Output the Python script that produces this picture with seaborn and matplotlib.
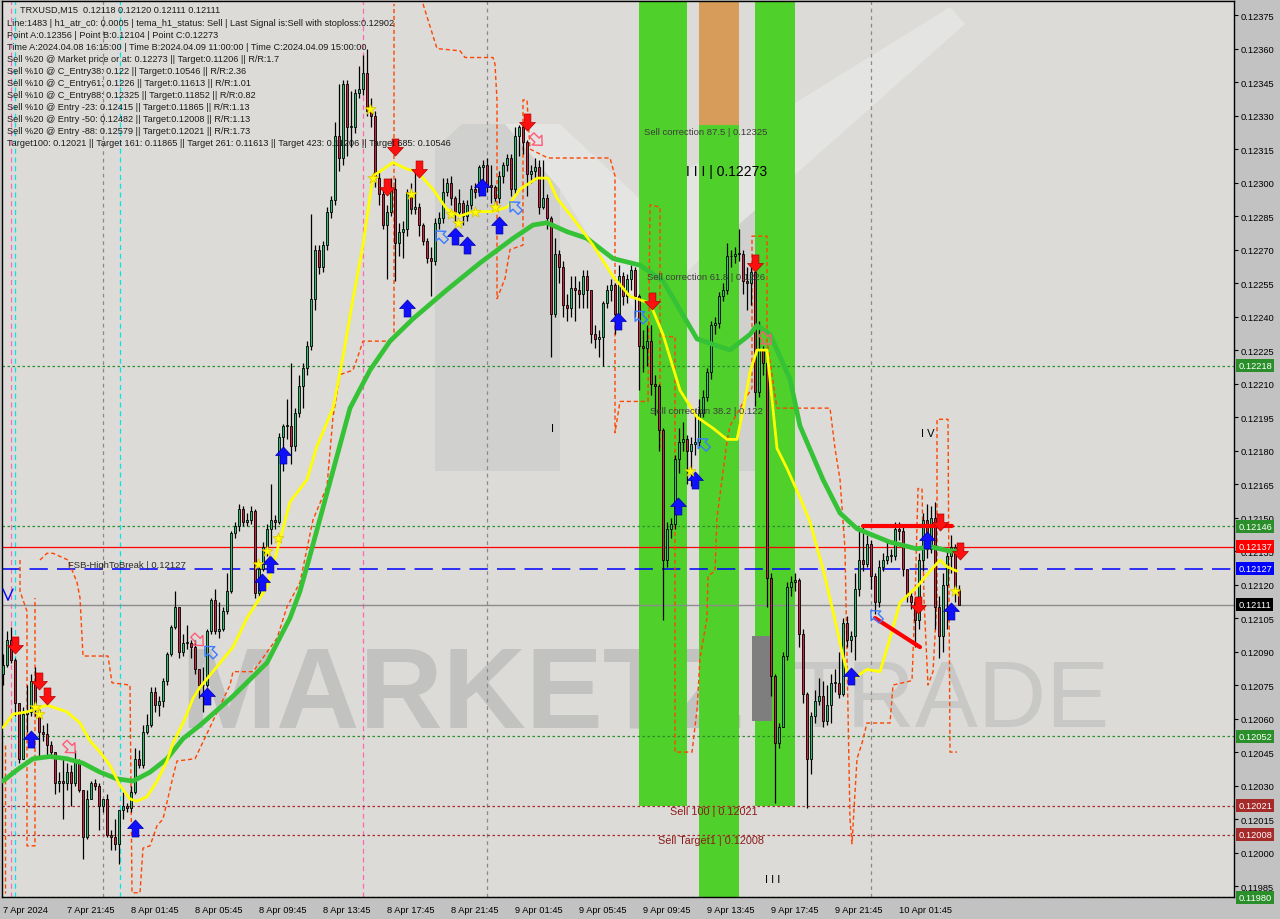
import numpy as np
import pandas as pd
import seaborn as sns
import matplotlib.pyplot as plt
from matplotlib.path import Path
from matplotlib.patches import Rectangle, Polygon
from matplotlib.transforms import blended_transform_factory

# TRXUSD M15 candles, prices in units of 0.00001
first_open = 12080
close = [
    12084, 12095, 12086, 12067, 12042, 12062, 12063, 12077, 12064, 12054,
    12053, 12048, 12045, 12031, 12032, 12031, 12036, 12031, 12041, 12028,
    12007, 12024, 12031, 12030, 12021, 12024, 12008, 12007, 12004, 12019,
    12021, 12020, 12027, 12042, 12039, 12054, 12057, 12072, 12066, 12068,
    12077, 12089, 12101, 12110, 12090, 12094, 12094, 12092, 12082, 12075,
    12075, 12099, 12113, 12099, 12100, 12108, 12117, 12143, 12146, 12154,
    12148, 12149, 12153, 12116, 12127, 12137, 12145, 12149, 12148, 12186,
    12191, 12191, 12182, 12197, 12209, 12217, 12227, 12248, 12270, 12262,
    12272, 12287, 12292, 12321, 12311, 12344, 12325, 12325, 12340, 12342,
    12349, 12332, 12330, 12302, 12295, 12281, 12287, 12297, 12273, 12278,
    12279, 12296, 12288, 12289, 12281, 12274, 12266, 12265, 12282, 12284,
    12296, 12300, 12293, 12287, 12291, 12285, 12290, 12297, 12296, 12307,
    12308, 12299, 12298, 12293, 12303, 12308, 12311, 12297, 12321, 12325,
    12318, 12304, 12305, 12307, 12289, 12293, 12284, 12241, 12268, 12262,
    12245, 12244, 12253, 12252, 12250, 12258, 12252, 12232, 12230, 12231,
    12246, 12252, 12254, 12241, 12258, 12249, 12257, 12261, 12249, 12227,
    12226, 12229, 12210, 12209, 12189, 12131, 12145, 12147, 12176, 12184,
    12185, 12180, 12183, 12184, 12197, 12204, 12215, 12236, 12237, 12249,
    12252, 12267, 12267, 12268, 12268, 12256, 12255, 12260, 12206, 12225,
    12219, 12123, 12079, 12049, 12056, 12088, 12119, 12121, 12122, 12098,
    12071, 12042, 12061, 12068, 12070, 12059, 12066, 12076, 12076, 12071,
    12103, 12095, 12097, 12118, 12131, 12129, 12138, 12124, 12112, 12128,
    12131, 12133, 12133, 12145, 12144, 12127, 12115, 12112, 12104, 12131,
    12149, 12136, 12150, 12110, 12097, 12120, 12133, 12137, 12118, 12111,
]
high = [
    12089, 12099, 12101, 12087, 12065, 12065, 12075, 12080, 12083, 12065,
    12057, 12058, 12050, 12044, 12036, 12042, 12040, 12039, 12046, 12042,
    12028, 12028, 12032, 12033, 12031, 12024, 12026, 12010, 12015, 12019,
    12027, 12022, 12030, 12047, 12046, 12057, 12062, 12074, 12074, 12070,
    12078, 12090, 12102, 12117, 12110, 12098, 12102, 12095, 12095, 12082,
    12083, 12100, 12114, 12118, 12112, 12110, 12125, 12144, 12148, 12156,
    12155, 12152, 12155, 12154, 12129, 12139, 12147, 12165, 12151, 12188,
    12192, 12203, 12219, 12199, 12214, 12219, 12229, 12286, 12272, 12272,
    12274, 12289, 12294, 12327, 12344, 12346, 12346, 12341, 12342, 12352,
    12357, 12360, 12338, 12332, 12305, 12297, 12290, 12302, 12302, 12282,
    12283, 12297, 12300, 12305, 12291, 12282, 12275, 12271, 12284, 12287,
    12302, 12302, 12303, 12294, 12297, 12292, 12292, 12299, 12300, 12308,
    12310, 12311, 12308, 12299, 12305, 12309, 12313, 12313, 12325, 12326,
    12326, 12319, 12308, 12311, 12310, 12310, 12295, 12285, 12275, 12270,
    12265, 12250, 12258, 12258, 12256, 12261, 12261, 12252, 12236, 12234,
    12247, 12254, 12257, 12255, 12263, 12260, 12259, 12263, 12262, 12250,
    12234, 12236, 12236, 12214, 12210, 12190, 12148, 12150, 12178, 12190,
    12193, 12187, 12186, 12198, 12203, 12207, 12217, 12238, 12240, 12251,
    12255, 12273, 12270, 12271, 12279, 12270, 12262, 12262, 12262, 12238,
    12227, 12220, 12125, 12080, 12058, 12090, 12121, 12124, 12125, 12123,
    12100, 12072, 12063, 12073, 12078, 12077, 12075, 12080, 12082, 12090,
    12105, 12106, 12099, 12125, 12144, 12146, 12142, 12140, 12125, 12131,
    12134, 12139, 12136, 12148, 12148, 12146, 12127, 12117, 12114, 12134,
    12152, 12156, 12155, 12157, 12115, 12125, 12135, 12142, 12138, 12120,
]
low = [
    12075, 12083, 12085, 12061, 12040, 12042, 12054, 12061, 12061, 12043,
    12050, 12043, 12043, 12026, 12027, 12015, 12028, 12021, 12030, 12027,
    11997, 12006, 12024, 12028, 12010, 12018, 12007, 12001, 12001, 11995,
    12015, 12018, 12018, 12026, 12038, 12038, 12053, 12056, 12063, 12061,
    12065, 12075, 12088, 12100, 12087, 12088, 12091, 12087, 12080, 12069,
    12063, 12074, 12098, 12098, 12096, 12099, 12107, 12116, 12141, 12144,
    12146, 12146, 12147, 12114, 12115, 12126, 12133, 12138, 12145, 12147,
    12171, 12185, 12174, 12180, 12195, 12199, 12214, 12225, 12243, 12259,
    12260, 12270, 12284, 12290, 12305, 12308, 12312, 12316, 12322, 12338,
    12339, 12330, 12325, 12298, 12290, 12279, 12257, 12285, 12256, 12267,
    12266, 12276, 12286, 12286, 12276, 12272, 12264, 12249, 12263, 12279,
    12282, 12294, 12290, 12282, 12285, 12281, 12283, 12288, 12293, 12294,
    12295, 12296, 12291, 12288, 12291, 12300, 12305, 12294, 12295, 12312,
    12313, 12294, 12300, 12301, 12286, 12288, 12279, 12222, 12240, 12255,
    12240, 12238, 12240, 12238, 12244, 12244, 12244, 12228, 12226, 12222,
    12218, 12244, 12247, 12232, 12240, 12245, 12246, 12252, 12240, 12207,
    12215, 12218, 12205, 12196, 12180, 12104, 12128, 12141, 12145, 12170,
    12180, 12165, 12164, 12178, 12182, 12195, 12202, 12212, 12232, 12235,
    12247, 12250, 12262, 12264, 12265, 12250, 12243, 12245, 12200, 12204,
    12214, 12110, 12070, 12022, 12047, 12062, 12086, 12115, 12117, 12092,
    12067, 12020, 12035, 12058, 12066, 12056, 12057, 12058, 12072, 12069,
    12070, 12092, 12090, 12086, 12115, 12126, 12128, 12118, 12107, 12110,
    12126, 12129, 12130, 12131, 12140, 12124, 12112, 12109, 12092, 12100,
    12126, 12132, 12134, 12100, 12087, 12090, 12100, 12125, 12112, 12111,
]

time_labels = ['7 Apr 2024', '7 Apr 21:45', '8 Apr 01:45', '8 Apr 05:45', '8 Apr 09:45',
               '8 Apr 13:45', '8 Apr 17:45', '8 Apr 21:45', '9 Apr 01:45', '9 Apr 05:45',
               '9 Apr 09:45', '9 Apr 13:45', '9 Apr 17:45', '9 Apr 21:45', '10 Apr 01:45']
price_ticks = list(range(11985, 12376, 15))

# slow MA (green) and fast MA (yellow): (candle index, price)
green_idx = [0, 3.5, 7.5, 11.75, 16, 20, 24.25, 28.5, 32.5, 36.75, 41, 45, 49.25, 57.5, 66,
             71.75, 74.25, 76.75, 81.75, 86.75, 91.75, 96.75, 102.5, 111, 119.25, 127.5, 132.5,
             136, 141, 146, 152.5, 159.25, 165, 173.5, 181.75, 186.75, 188.5, 191.75, 196.75,
             199.25, 205, 209.25, 213.5, 221.75, 228.5, 231.75, 236.75, 239]
green_val = [12032, 12037, 12042, 12043, 12042, 12040, 12036, 12033, 12032, 12036, 12042, 12051,
             12057, 12070, 12085, 12105, 12117, 12133, 12166, 12199, 12216, 12229, 12239, 12252,
             12264, 12275, 12281, 12282, 12278, 12275, 12266, 12263, 12256, 12230, 12225, 12232,
             12236, 12232, 12212, 12191, 12167, 12152, 12145, 12139, 12136, 12137, 12135, 12135]
yellow_idx = [0, 2.5, 6, 11, 16, 19.25, 21.75, 24.25, 26.75, 29.25, 31.75, 33.5, 36, 38.5, 41,
              42.5, 45, 47.5, 49.25, 57.5, 61, 66, 69.25, 71.75, 76, 78.5, 82.5, 85, 87.5, 90,
              92.5, 94.25, 97.5, 101, 103.5, 107.5, 111, 114.25, 117.5, 122.5, 126, 129.25,
              133.5, 136.25, 138.5, 142.5, 147.5, 152.5, 156.75, 161.75, 165, 169.25, 173.5,
              177.5, 181, 183.5, 185, 186.75, 188.5, 191, 193.5, 196, 199.25, 201.75, 205,
              207.5, 210, 211.75, 213.5, 216, 219.25, 221.75, 224.25, 228.5, 231.75, 234.25,
              236, 238.5]
yellow_val = [12056, 12062, 12063, 12066, 12063, 12058, 12050, 12045, 12039, 12030, 12024, 12023,
              12025, 12032, 12041, 12049, 12058, 12069, 12074, 12092, 12105, 12119, 12140, 12157,
              12167, 12182, 12199, 12222, 12248, 12272, 12303, 12305, 12309, 12306, 12305, 12297,
              12288, 12285, 12287, 12287, 12289, 12297, 12302, 12302, 12293, 12284, 12272, 12258,
              12249, 12246, 12232, 12207, 12195, 12190, 12185, 12185, 12198, 12215, 12225, 12225,
              12181, 12172, 12159, 12148, 12127, 12108, 12088, 12076, 12079, 12082, 12081, 12096,
              12112, 12119, 12126, 12131, 12128, 12126]

# dashed orange stop lines: (index, price)
orange_paths = [
    [(0.5, 12048), (0.5, 11982)],
    [(4.25, 12131), (4.25, 12117), (6, 12108), (6, 12003), (8, 12003), (8, 12114)],
    [(9.25, 12131), (11, 12134), (12.5, 12134), (16.25, 12131), (18.5, 12121), (19.25, 12114),
     (20, 12088), (26.25, 12088), (27.25, 12076), (31.75, 12075), (32.25, 11982), (34.25, 11982),
     (35, 12002), (36.75, 12003), (38.5, 12012), (40, 12015), (42.5, 12034), (43.5, 12041),
     (48, 12042), (56.75, 12075), (57.5, 12081), (62.5, 12081), (68.5, 12096), (71, 12110),
     (74.25, 12121), (77.5, 12149), (81, 12164), (82.5, 12195), (84.25, 12214), (87.5, 12216),
     (88.5, 12221), (90, 12229), (97.75, 12229), (97.75, 12380)],
    [(105, 12380), (108.5, 12360), (114.25, 12359), (115.5, 12356), (122.5, 12356), (123, 12353),
     (123.5, 12337), (123.5, 12248), (125.5, 12257), (126.75, 12270), (130, 12272), (130, 12337),
     (131, 12337), (131.75, 12315), (136.25, 12311), (151.75, 12311), (153, 12303), (153, 12188),
     (154.25, 12202), (161.25, 12202), (161.75, 12290), (164.25, 12289), (164.25, 12181)],
    [(164.75, 12231), (168, 12231), (168, 12045), (172.25, 12045), (173.5, 12064), (174.25, 12087),
     (176, 12105), (176.25, 12124), (178, 12126), (178.5, 12150), (181, 12184), (181.75, 12191),
     (185.5, 12203), (187.25, 12208), (187.25, 12276), (191, 12276), (191, 12229), (193.5, 12199),
     (206.75, 12199), (208, 12181), (209.25, 12167), (210.5, 12136), (211.75, 12015)],
    [(211.75, 12015), (212.25, 12004), (213.5, 12042), (214.75, 12049), (216, 12058), (221.75, 12058),
     (222.5, 12075), (227.25, 12077), (228, 12113), (228.75, 12163), (229.75, 12163), (230.25, 12113),
     (231.25, 12075), (232.5, 12081), (233.5, 12113), (233.5, 12194), (236.25, 12194),
     (236.75, 12045), (238.5, 12045)],
]

sell_arrows = [(3, 12093), (9, 12077), (11, 12070), (96, 12298), (98, 12316), (104, 12306),
               (131, 12327), (162.25, 12247), (188, 12264), (228.75, 12111), (234.25, 12148),
               (239.25, 12135)]
buy_arrows = [(7, 12051), (33, 12011), (51, 12070), (64.75, 12121), (66.75, 12129), (70, 12178),
              (101, 12244), (113, 12276), (116, 12272), (119.75, 12298), (124, 12281),
              (153.75, 12238), (168.75, 12155), (173, 12167), (212, 12079), (231, 12140),
              (237, 12108)]
sell_hollow = [(16.75, 12047), (48.75, 12095), (133.5, 12319), (190.75, 12230)]
buy_hollow = [(51.75, 12090), (109.5, 12276), (128, 12289), (159.25, 12240), (175, 12183),
              (218.25, 12106)]
stars = [(8, 12065), (9, 12062), (63.75, 12129), (66, 12135), (68.75, 12141), (91.75, 12333),
         (92.5, 12302), (102, 12295), (112, 12286), (113.75, 12282), (118, 12287), (123, 12289),
         (171.75, 12171), (238, 12117)]
red_lines = [[(215, 12146), (237.25, 12146)], [(218, 12105), (229.25, 12092)]]

# sell zones: (first index, last index, lower price, upper price)
zones = [(159, 171, 12021, 12382), (174, 184, 11980, 12326), (188, 198, 12021, 12382)]
zone_top = (174, 184, 12326, 12382)

levels = [(12218, '#2a8f2a', 'dot'), (12146, '#2a8f2a', 'dot'), (12137, '#ff0000', 'solid'),
          (12127, '#0000ff', 'dash'), (12111, '#000000', 'gray'), (12052, '#2a8f2a', 'dot'),
          (12021, '#a52a2a', 'dot'), (12008, '#a52a2a', 'dot'), (11980, '#2a8f2a', 'dot')]

day_lines = [25, 121, 217]
pink_lines = [2, 90]
cyan_lines = [3.1, 29.15]

header = [
    'Line:1483 | h1_atr_c0: 0.0005 | tema_h1_status: Sell | Last Signal is:Sell with stoploss:0.12902',
    'Point A:0.12356 | Point B:0.12104 | Point C:0.12273',
    'Time A:2024.04.08 16:15:00 | Time B:2024.04.09 11:00:00 | Time C:2024.04.09 15:00:00',
    'Sell %20 @ Market price or at: 0.12273 || Target:0.11206 || R/R:1.7',
    'Sell %10 @ C_Entry38: 0.122 || Target:0.10546 || R/R:2.36',
    'Sell %10 @ C_Entry61: 0.1226 || Target:0.11613 || R/R:1.01',
    'Sell %10 @ C_Entry88: 0.12325 || Target:0.11852 || R/R:0.82',
    'Sell %10 @ Entry -23: 0.12415 || Target:0.11865 || R/R:1.13',
    'Sell %20 @ Entry -50: 0.12482 || Target:0.12008 || R/R:1.13',
    'Sell %20 @ Entry -88: 0.12579 || Target:0.12021 || R/R:1.73',
    'Target100: 0.12021 || Target 161: 0.11865 || Target 261: 0.11613 || Target 423: 0.11206 || Target 685: 0.10546',
]

P = 1e-5
W, H = 1280, 920

sns.set_style('white')
plt.rcParams['font.family'] = ['Liberation Sans', 'DejaVu Sans']

fig = plt.figure(figsize=(12.8, 9.2), dpi=100, facecolor='#c2c2c2')
ax = fig.add_axes([2 / W, 22 / H, 1232 / W, 896 / H])
ax.set_facecolor('#dcdbd8')
ax.set_xlim(-0.25, 307.75)
ax.set_ylim(0.119801, 0.123813)


def fig_poly(pts, **kw):
    return Polygon([(px / W, 1 - py / H) for px, py in pts], transform=fig.transFigure, **kw)


# faint background logo and watermark
ax.add_patch(fig_poly([(435, 472), (435, 150), (462, 125), (505, 125), (560, 190), (560, 472)],
                      color='#d0d0cf', lw=0, zorder=0.3))
ax.add_patch(fig_poly([(730, 472), (730, 185), (795, 125), (795, 472)],
                      color='#d0d0cf', lw=0, zorder=0.3))
ax.add_patch(fig_poly([(505, 125), (560, 125), (640, 200), (950, 8), (965, 25), (700, 260),
                       (640, 320), (560, 190)], color='#e4e4e3', lw=0, zorder=0.35))
ax.text(180 / W, 1 - 727 / H, 'MARKETZ', transform=fig.transFigure, fontsize=83,
        fontweight='bold', color='#c2c2c1', zorder=0.5)
ax.text(790 / W, 1 - 727 / H, 'TRADE', transform=fig.transFigure, fontsize=68,
        color='#c8c8c7', zorder=0.5)

# zones
for i0, i1, lo, hi in zones:
    ax.add_patch(Rectangle((i0, lo * P), i1 - i0, (hi - lo) * P, color='#4fd02a', lw=0, zorder=1))
ax.add_patch(Rectangle((zone_top[0], zone_top[2] * P), zone_top[1] - zone_top[0],
                       (zone_top[3] - zone_top[2]) * P, color='#d89c5a', lw=0, zorder=1))
ax.add_patch(fig_poly([(752, 637), (772, 637), (772, 722), (752, 722)], color='#7e7e7e',
                      lw=0, zorder=1.2))

for d in day_lines:
    ax.axvline(d, color='#8a8a8a', lw=0.9, dashes=(3, 3), zorder=1.5)
for d in pink_lines:
    ax.axvline(d, color='#ff69b4', lw=0.9, dashes=(4, 3), zorder=1.5)
for d in cyan_lines:
    ax.axvline(d, color='#00e5ee', lw=0.9, dashes=(4, 3), zorder=1.5)

for lv, col, st in levels:
    if st == 'dot':
        ax.axhline(lv * P, color=col, lw=0.9, dashes=(2, 2), zorder=2)
    elif st == 'dash':
        ax.axhline(lv * P, color=col, lw=1.1, dashes=(12, 6), zorder=2)
    elif st == 'gray':
        ax.axhline(lv * P, color='#8c8c8c', lw=1.0, zorder=2)
    else:
        ax.axhline(lv * P, color=col, lw=0.9, zorder=2)

for path in orange_paths:
    px, py = zip(*path)
    ax.plot(px, np.array(py) * P, color='#ff4500', lw=1.0, dashes=(3, 2), zorder=2.5)

# candles
df = pd.DataFrame({'close': close, 'high': high, 'low': low}) * P
df['open'] = df['close'].shift(1).fillna(first_open * P)
df['high'] = df[['high', 'open', 'close']].max(axis=1)
df['low'] = df[['low', 'open', 'close']].min(axis=1)
x = np.arange(len(df))
up = (df['close'] >= df['open']).values
ax.vlines(x, df['low'], df['high'], color='black', lw=0.9, zorder=4)
body = (df['close'] - df['open']).abs().clip(lower=0.25 * P)
ax.bar(x, body, bottom=np.minimum(df['open'], df['close']), width=0.7,
       color=np.where(up, '#2fbf71', '#c8283f'), edgecolor='black', linewidth=0.6, zorder=5)

sns.lineplot(x=green_idx, y=np.array(green_val) * P, color='#36c236', lw=3.4, sort=False,
             estimator=None, ax=ax, zorder=6)
sns.lineplot(x=yellow_idx, y=np.array(yellow_val) * P, color='#ffff00', lw=2.0, sort=False,
             estimator=None, ax=ax, zorder=6)


def arrow(angle):
    v = np.array([(-0.28, 0.7), (0.28, 0.7), (0.28, 0.0), (0.65, 0.0), (0, -0.7),
                  (-0.65, 0.0), (-0.28, 0.0), (-0.28, 0.7)])
    a = np.deg2rad(angle)
    r = np.array([[np.cos(a), -np.sin(a)], [np.sin(a), np.cos(a)]])
    return Path(v @ r.T, closed=True)


sx, sy = zip(*sell_arrows)
ax.scatter(sx, np.array(sy) * P, marker=arrow(0), s=150, color='#ff1010', edgecolors='#b00000',
           linewidths=0.5, zorder=8)
bx, by = zip(*buy_arrows)
ax.scatter(bx, np.array(by) * P, marker=arrow(180), s=150, color='#1010ff', edgecolors='#0000a0',
           linewidths=0.5, zorder=8)
hx, hy = zip(*sell_hollow)
ax.scatter(hx, np.array(hy) * P, marker=arrow(45), s=110, facecolors='none', edgecolors='#ff5a78',
           linewidths=1.0, zorder=8)
hx, hy = zip(*buy_hollow)
ax.scatter(hx, np.array(hy) * P, marker=arrow(-135), s=110, facecolors='none', edgecolors='#3a7bff',
           linewidths=1.0, zorder=8)
stx, sty = zip(*stars)
ax.scatter(stx, np.array(sty) * P, marker='*', s=70, color='#ffff00', edgecolors='#d8c000',
           linewidths=0.5, zorder=8)
for seg in red_lines:
    lx, ly = zip(*seg)
    ax.plot(lx, np.array(ly) * P, color='#ff0000', lw=3, zorder=7)
ax.plot([0, 1.25, 2.5], [12118 * P, 12113 * P, 12118 * P], color='#0000ff', lw=1, zorder=7)

# labels in the chart
ax.text(160.25, 12325 * P, 'Sell correction 87.5 | 0.12325', va='top', fontsize=6.8, color='#3c3c3c', zorder=9)
ax.text(170.75, 12305 * P, 'I I I | 0.12273', va='center', fontsize=10, color='black', zorder=9)
ax.text(161, 12260 * P, 'Sell correction 61.8 | 0.1226', va='top', fontsize=6.8, color='#3c3c3c', zorder=9)
ax.text(161.75, 12200 * P, 'Sell correction 38.2 | 0.122', va='top', fontsize=6.8, color='#3c3c3c', zorder=9)
ax.text(166.75, 12021 * P, 'Sell 100 | 0.12021', va='top', fontsize=7.8, color='#8b1a1a', zorder=9)
ax.text(163.75, 12008 * P, 'Sell Target1 | 0.12008', va='top', fontsize=7.8, color='#8b1a1a', zorder=9)
ax.text(16.25, 12127 * P, 'FSB-HighToBreak | 0.12127', va='bottom', fontsize=6.8, color='#2a2a2a', zorder=9)
ax.text(137, 12190 * P, 'I', va='center', fontsize=8, color='black', zorder=9)
ax.text(229.5, 12188 * P, 'I V', va='center', fontsize=8, color='black', zorder=9)
ax.text(190.5, 11988 * P, 'I I I', va='center', fontsize=8, color='black', zorder=9)

# axes, ticks
for s in ax.spines.values():
    s.set_color('black')
    s.set_linewidth(1)
ax.yaxis.tick_right()
ax.set_yticks(np.array(price_ticks) * P)
ax.set_yticklabels([f'{t * P:.5f}' for t in price_ticks])
ax.set_xticks(np.arange(0, 225, 16))
ax.set_xticklabels(time_labels)
for lab in ax.get_xticklabels():
    lab.set_horizontalalignment('left')
ax.tick_params(axis='y', labelsize=6.7, length=3, pad=2, width=0.8, colors='black')
ax.tick_params(axis='x', labelsize=6.7, length=4, pad=1.5, width=0.8, colors='black')
ax.set_xlabel('')
ax.set_ylabel('')

tr = blended_transform_factory(ax.transAxes, ax.transData)
for lv, col, st in levels:
    fc = '#000000' if st == 'gray' else col
    ax.text(1.0035, lv * P, f'{lv * P:.5f}', transform=tr, ha='left', va='center', fontsize=6.7,
            color='white', clip_on=False, zorder=10,
            bbox=dict(boxstyle='square,pad=0.22', facecolor=fc, edgecolor='none'))

fig.text(20 / W, 1 - 10.7 / H, 'TRXUSD,M15  0.12118 0.12120 0.12111 0.12111', va='center',
         fontsize=6.6, color='#1a1a1a')
for k, line in enumerate(header):
    fig.text(7 / W, 1 - (24 + 12 * k) / H, line, va='center', fontsize=6.6, color='#1a1a1a')

fig.savefig('out.png', dpi=100)
